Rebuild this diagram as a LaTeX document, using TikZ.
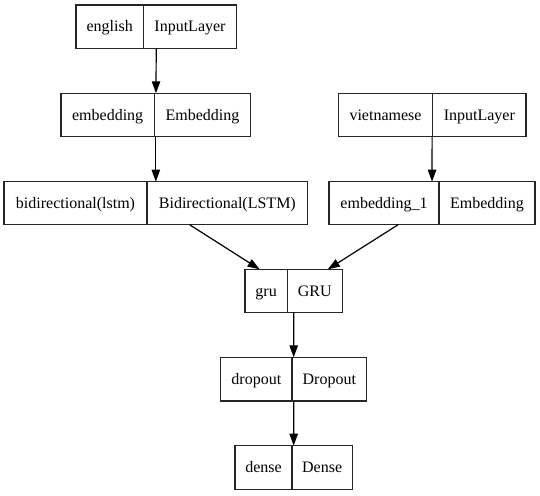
\documentclass[tikz,border=0pt]{standalone}
\usepackage{fontspec}
\setmainfont{Liberation Serif}
\usetikzlibrary{arrows.meta,fit}
\tikzset{
  part/.style={draw=black!85, line width=1.2pt, inner sep=0pt, outer sep=0pt,
    text height=14pt, text depth=4pt, font=\rmfamily\fontsize{16}{19}\selectfont},
  recbox/.style={inner sep=0pt, outer sep=0pt},
  edge/.style={line width=1.2pt, -{Triangle[length=12pt,width=8.4pt]}},
}
\newcommand\recnode[8]{%
  \node[part, minimum width={#3-#2}, minimum height={#6-#5}, anchor=north west] (#1L) at (#2,#5) {#7};
  \node[part, minimum width={#4-#3}, minimum height={#6-#5}, anchor=north west] (#1R) at (#3,#5) {#8};
  \node[recbox, fit=(#1L)(#1R)] (#1) {};
}
\begin{document}
\begin{tikzpicture}[x=1pt,y=-1pt]
\useasboundingbox[fill=white] (0,0) rectangle (540,495);
\recnode{english}{76}{143.3}{236.7}{5}{48.7}{english}{InputLayer}
\recnode{embedding}{61}{154.3}{250.7}{93.3}{136.7}{embedding}{Embedding}
\recnode{bidir}{4}{147}{307.7}{181.7}{224.7}{bidirectional(lstm)}{Bidirectional(LSTM)}
\recnode{viet}{338.3}{432.7}{526}{93.3}{136.7}{vietnamese}{InputLayer}
\recnode{embone}{329}{439}{535}{181.7}{224.7}{embedding\_1}{Embedding}
\recnode{gru}{245}{287.3}{342.3}{269.3}{312.7}{gru}{GRU}
\recnode{dropout}{220.7}{292}{366.7}{357.3}{401}{dropout}{Dropout}
\recnode{dense}{235}{292}{352.3}{445.7}{489.3}{dense}{Dense}
\draw[edge] (english) -- (embedding);
\draw[edge] (embedding) -- (bidir);
\draw[edge] (viet) -- (embone);
\draw[edge] (bidir) -- (gru);
\draw[edge] (embone) -- (gru);
\draw[edge] (gru) -- (dropout);
\draw[edge] (dropout) -- (dense);
\end{tikzpicture}
\end{document}
